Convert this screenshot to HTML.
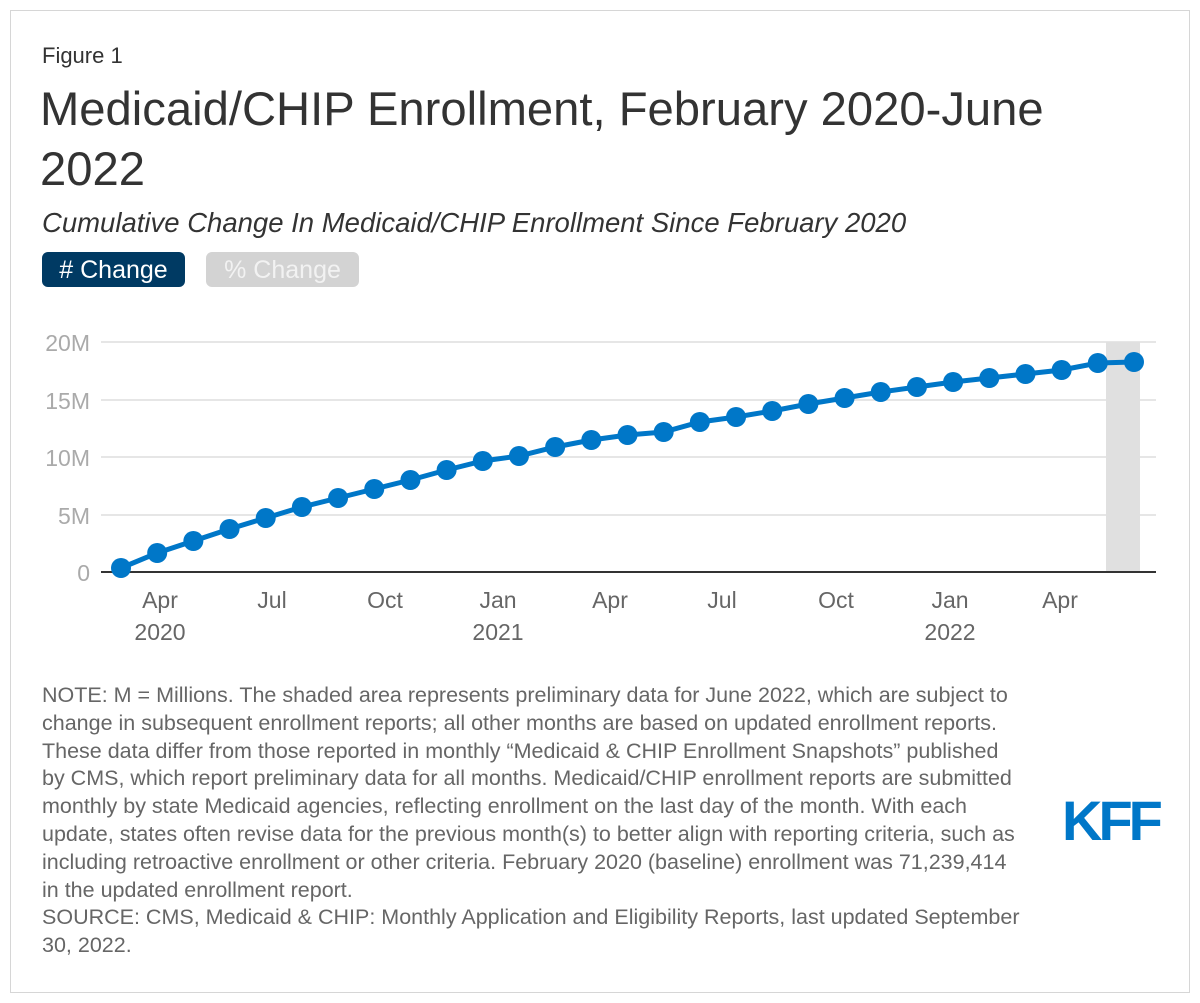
<!DOCTYPE html>
<html><head><style>
body{margin:0;background:#fff;font-family:"Liberation Sans",sans-serif;}
.frame{position:absolute;left:10px;top:10px;width:1178px;height:981px;border:1px solid #d6d6d6;}
.t{position:absolute;color:#333;white-space:nowrap;}
</style></head><body>
<div class="frame"></div>
<div class="t" style="left:42px;top:43px;font-size:22px;">Figure 1</div>
<div class="t" style="left:40px;top:80px;font-size:47.2px;line-height:60px;color:#333;">Medicaid/CHIP Enrollment, February 2020-June<br>2022</div>
<div class="t" style="left:42px;top:207px;font-size:27.5px;font-style:italic;">Cumulative Change In Medicaid/CHIP Enrollment Since February 2020</div>
<div style="position:absolute;left:42px;top:252px;width:143px;height:35px;background:#003a63;border-radius:6px;color:#fff;font-size:25px;line-height:36px;text-align:center;">#&nbsp;Change</div>
<div style="position:absolute;left:206px;top:252px;width:153px;height:35px;background:#d3d3d3;border-radius:6px;color:#f2f2f2;font-size:25px;line-height:36px;text-align:center;">%&nbsp;Change</div>
<svg style="position:absolute;left:0;top:0" width="1200" height="1003">
<g stroke="#e6e6e6" stroke-width="2">
<line x1="101" x2="1156" y1="342" y2="342"/><line x1="101" x2="1156" y1="400" y2="400"/>
<line x1="101" x2="1156" y1="457" y2="457"/><line x1="101" x2="1156" y1="515" y2="515"/></g>
<rect x="1106" y="342" width="34" height="230" fill="#e0e0e0"/>
<line x1="101" x2="1156" y1="572" y2="572" stroke="#333" stroke-width="2"/>
<g font-size="23" fill="#aaa" text-anchor="end">
<text x="90" y="351">20M</text><text x="90" y="409">15M</text><text x="90" y="466">10M</text><text x="90" y="524">5M</text><text x="90" y="581">0</text></g>
<g font-size="23" fill="#666" text-anchor="middle">
<text x="160" y="608">Apr</text><text x="160" y="640">2020</text>
<text x="272" y="608">Jul</text><text x="385" y="608">Oct</text>
<text x="498" y="608">Jan</text><text x="498" y="640">2021</text>
<text x="610" y="608">Apr</text><text x="722" y="608">Jul</text><text x="836" y="608">Oct</text>
<text x="950" y="608">Jan</text><text x="950" y="640">2022</text><text x="1060" y="608">Apr</text></g>
<g id="s"></g>
</svg>
<div class="t" style="left:42px;top:682px;font-size:21.5px;line-height:27.8px;color:#666;">NOTE: M = Millions. The shaded area represents preliminary data for June 2022, which are subject to<br>change in subsequent enrollment reports; all other months are based on updated enrollment reports.<br>These data differ from those reported in monthly “Medicaid &amp; CHIP Enrollment Snapshots” published<br>by CMS, which report preliminary data for all months. Medicaid/CHIP enrollment reports are submitted<br>monthly by state Medicaid agencies, reflecting enrollment on the last day of the month. With each<br>update, states often revise data for the previous month(s) to better align with reporting criteria, such as<br>including retroactive enrollment or other criteria. February 2020 (baseline) enrollment was 71,239,414<br>in the updated enrollment report.<br>SOURCE: CMS, Medicaid &amp; CHIP: Monthly Application and Eligibility Reports, last updated September<br>30, 2022.</div>
<div style="position:absolute;left:1062px;top:788px;font-size:56px;font-weight:bold;color:#0077c8;letter-spacing:-4px;">KFF</div>
<script>
var ys=[568,553,541,529,518,507,498,489,480,470,461,456,447,440,435,432,422,417,411,404,398,392,387,382,378,374,370,363,362];
var g=document.getElementById('s'),pts=[],h='';
ys.forEach(function(y,i){var x=121+i*(1134-121)/28;pts.push(x+','+y);h+='<circle cx="'+x+'" cy="'+y+'" r="10" fill="#0077c8"/>';});
g.innerHTML='<polyline points="'+pts.join(' ')+'" fill="none" stroke="#0077c8" stroke-width="5"/>'+h;
</script>
</body></html>
